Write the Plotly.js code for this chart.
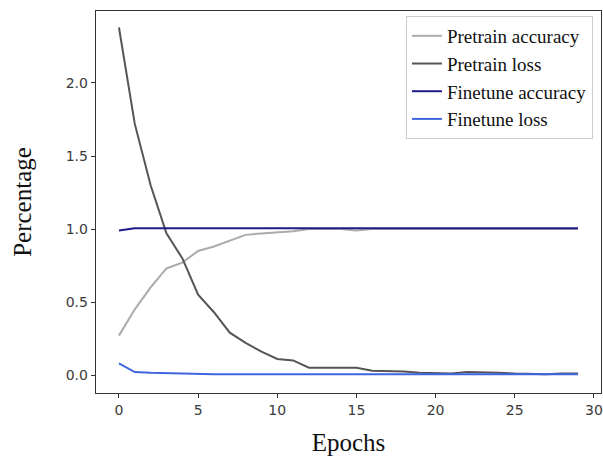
<!DOCTYPE html>
<html>
<head>
<meta charset="utf-8">
<script src="https://cdn.plot.ly/plotly-3.0.1.min.js"></script>
<style>html,body{margin:0;padding:0;background:#fff;}#chart{width:603px;height:456px;}</style>
</head>
<body>
<div id="chart"></div>
<script>
var epochs = [0,1,2,3,4,5,6,7,8,9,10,11,12,13,14,15,16,17,18,19,20,21,22,23,24,25,26,27,28,29];
var pretrainAccuracy = [0.27,0.45,0.60,0.73,0.77,0.85,0.88,0.92,0.96,0.97,0.975,0.985,1.0,1.0,1.0,0.99,1.0,1.0,1.0,1.0,1.0,1.0,1.0,1.0,1.0,1.0,1.0,1.0,1.0,1.0];
var pretrainLoss = [2.38,1.72,1.30,0.97,0.80,0.55,0.43,0.29,0.22,0.16,0.11,0.10,0.05,0.05,0.045,0.05,0.03,0.03,0.025,0.015,0.015,0.01,0.02,0.02,0.015,0.01,0.005,0.005,0.01,0.01];
var finetuneAccuracy = [0.99,1.005,1.005,1.005,1.005,1.005,1.005,1.005,1.005,1.005,1.005,1.005,1.005,1.005,1.005,1.005,1.005,1.005,1.005,1.005,1.005,1.005,1.005,1.005,1.005,1.005,1.005,1.005,1.005,1.005];
var finetuneLoss = [0.08,0.02,0.015,0.012,0.008,0.007,0.006,0.006,0.006,0.005,0.005,0.005,0.005,0.005,0.005,0.005,0.005,0.005,0.005,0.005,0.005,0.005,0.005,0.005,0.005,0.005,0.005,0.005,0.005,0.005];
var seriesNames = ["Pretrain accuracy","Pretrain loss","Finetune accuracy","Finetune loss"];
var xTicks = [0,5,10,15,20,25,30];
var yTicks = [0.0,0.5,1.0,1.5,2.0];
var yTickText = ["0.0","0.5","1.0","1.5","2.0"];

var colors = ["#ababab","#555555","#1b1b8a","#3f66e0"];
var ys = [pretrainAccuracy, pretrainLoss, finetuneAccuracy, finetuneLoss];
var traces = ys.map(function(y,i){
  return {x: epochs, y: y, type: "scatter", mode: "lines", name: seriesNames[i],
          line: {color: colors[i], width: 2}};
});

var axisCommon = {
  showgrid: false, zeroline: false, showline: true, mirror: true,
  linecolor: "#333", linewidth: 1.3,
  ticks: "outside", ticklen: 4, tickwidth: 1, tickcolor: "#333",
  tickfont: {family: "DejaVu Sans", size: 14, color: "#3a3a3a"}
};

var layout = {
  width: 603, height: 456,
  margin: {l: 96, r: 2, t: 11, b: 63},
  paper_bgcolor: "#fff", plot_bgcolor: "#fff",
  showlegend: true,
  legend: {x: 0.984, y: 0.987, xanchor: "right", yanchor: "top",
           bgcolor: "rgba(255,255,255,0.9)", bordercolor: "#cccccc", borderwidth: 1,
           font: {family: "Liberation Serif", size: 19, color: "#111"}},
  xaxis: Object.assign({}, axisCommon, {
    range: [-1.45, 30.45], tickvals: xTicks, automargin: false,
    title: {text: "Epochs", font: {family: "Liberation Serif", size: 25, color: "#111"}, standoff: 30}
  }),
  yaxis: Object.assign({}, axisCommon, {
    range: [-0.123, 2.493], tickvals: yTicks, ticktext: yTickText,
    title: {text: "Percentage", font: {family: "Liberation Serif", size: 25, color: "#111"}, standoff: 27}
  })
};

Plotly.newPlot("chart", traces, layout, {displayModeBar: false, staticPlot: true});
</script>
</body>
</html>
